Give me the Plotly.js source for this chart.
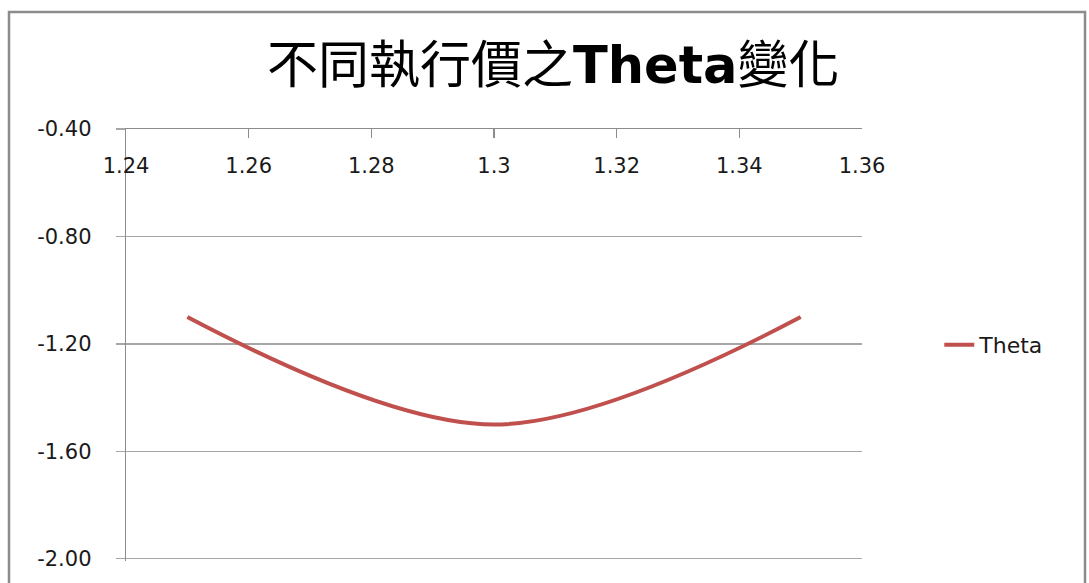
<!DOCTYPE html>
<html>
<head>
<meta charset="utf-8">
<script src="https://cdn.plot.ly/plotly-3.0.1.min.js"></script>
<style>
html,body{margin:0;padding:0;background:#fff;}
#chart{width:1089px;height:583px;}
</style>
</head>
<body>
<div id="chart"></div>
<script>
// Data
const strikes = [1.25, 1.30, 1.35];
const thetaValues = [-1.10, -1.50, -1.10];
const seriesName = "Theta";
const xTickVals = [1.24, 1.26, 1.28, 1.30, 1.32, 1.34, 1.36];
const xTickText = ["1.24", "1.26", "1.28", "1.3", "1.32", "1.34", "1.36"];
const yTickVals = [-2.0, -1.6, -1.2, -0.8, -0.4];
const yTickText = ["-2.00", "-1.60", "-1.20", "-0.80", "-0.40"];
const chartTitle = "不同執行價之<b>Theta</b>變化";

const gray = "#a6a6a6";
const axisGray = "#8c8c8c";
const txt = "#1a1a1a";
const fontFam = "DejaVu Sans, Noto Sans CJK TC, sans-serif";

const trace = {
  x: strikes,
  y: thetaValues,
  type: "scatter",
  mode: "lines",
  name: seriesName,
  line: {color: "#C0504D", width: 4, shape: "spline", smoothing: 1}
};

const layout = {
  width: 1089,
  height: 583,
  paper_bgcolor: "#fff",
  plot_bgcolor: "#fff",
  margin: {l: 126, r: 227, t: 129, b: 22},
  font: {family: fontFam, color: txt, size: 21},
  title: {
    text: chartTitle,
    font: {family: "DejaVu Sans, Noto Sans CJK TC, sans-serif", size: 51, color: "#000"},
    x: 0.508, xref: "container", xanchor: "center",
    y: 0.888, yref: "container", yanchor: "middle"
  },
  xaxis: {
    range: [1.24, 1.36],
    side: "top",
    tickmode: "array",
    tickvals: xTickVals,
    ticktext: xTickText,
    ticks: "inside",
    ticklen: 9,
    tickcolor: axisGray,
    tickwidth: 1.3,
    ticklabelposition: "inside",
    ticklabeloverflow: "allow",
    ticklabelstandoff: 22,
    showline: true,
    linecolor: axisGray,
    linewidth: 1.3,
    showgrid: false,
    zeroline: false,
    tickfont: {family: fontFam, size: 21, color: txt}
  },
  yaxis: {
    range: [-2.008, -0.4],
    tickmode: "array",
    tickvals: yTickVals,
    ticktext: yTickText,
    ticks: "outside",
    ticklen: 9,
    tickcolor: gray,
    tickwidth: 1.3,
    ticklabelstandoff: 20,
    showline: true,
    linecolor: axisGray,
    linewidth: 1.3,
    showgrid: true,
    gridcolor: gray,
    gridwidth: 1.3,
    zeroline: false,
    tickfont: {family: fontFam, size: 21, color: txt}
  },
  showlegend: true,
  legend: {
    x: 1.105, xanchor: "left",
    y: 0.5, yanchor: "middle",
    font: {family: fontFam, size: 22, color: txt},
    bgcolor: "rgba(0,0,0,0)"
  },
  shapes: [{
    type: "rect", xref: "paper", yref: "paper",
    x0: (9 - 126) / 736, x1: (1085 - 126) / 736,
    y0: -0.3, y1: (561 - 12) / 432,
    line: {color: "#8c8c8c", width: 2.5},
    fillcolor: "rgba(0,0,0,0)",
    layer: "below"
  }]
};

Plotly.newPlot("chart", [trace], layout, {displayModeBar: false, staticPlot: true});
</script>
</body>
</html>
